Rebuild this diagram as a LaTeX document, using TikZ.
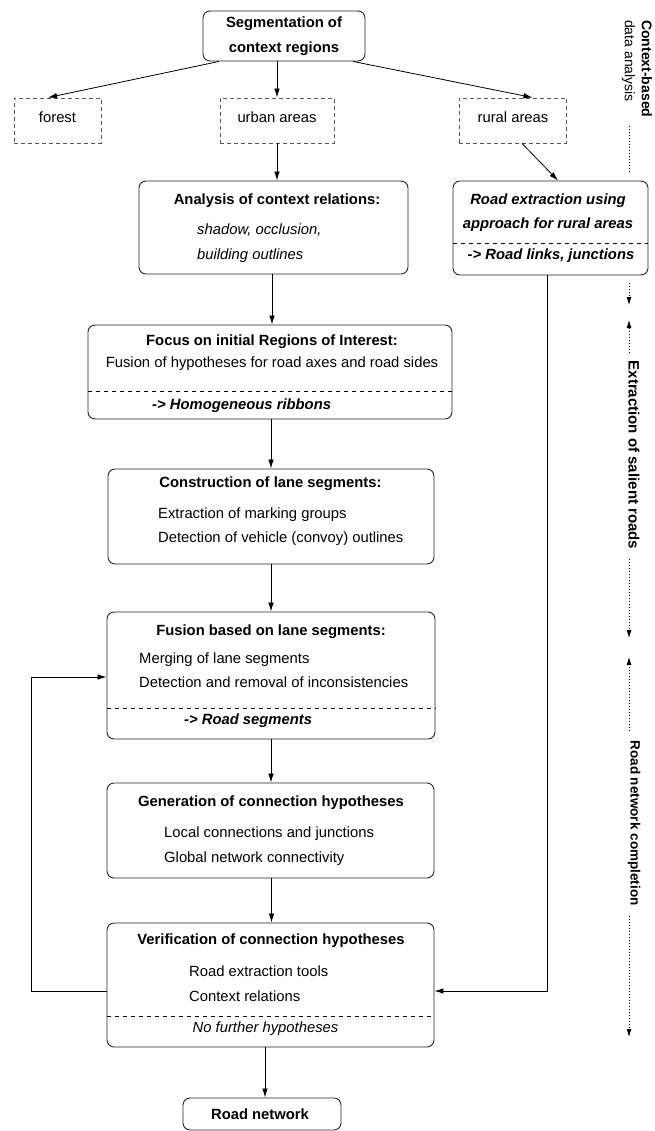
\documentclass[tikz,border=0pt]{standalone}
\usepackage{fontspec}
\setmainfont{Liberation Sans}
\usetikzlibrary{arrows.meta}
\newcommand\fsz{\fontsize{14.8}{17}\selectfont}
\newcommand\rsz{\fontsize{13.5}{16}\selectfont}
\begin{document}
\begin{tikzpicture}[x=1pt,y=-1pt,
  font=\fsz,
  box/.style={draw=black!85, line width=0.9pt, rounded corners=7pt, inner sep=0pt, fill=white},
  dbox/.style={draw=black!65, line width=0.9pt, dash pattern=on 4pt off 3pt, inner sep=0pt},
  txt/.style={inner sep=0pt, anchor=mid},
  ltxt/.style={inner sep=0pt, anchor=mid west},
  bf/.style={font=\fsz\bfseries},
  it/.style={font=\fsz\itshape},
  bfit/.style={font=\fsz\bfseries\itshape},
  sepline/.style={line width=0.8pt, dash pattern=on 4.5pt off 3.5pt},
  arr/.style={line width=0.8pt, -{Latex[length=9pt,width=5.5pt]}},
  dotl/.style={line width=0.8pt, dash pattern=on 0.8pt off 2.2pt},
  dotarr/.style={dotl, -{Latex[length=8pt,width=5pt]}},
  rlab/.style={inner sep=0pt, rotate=-90, align=left, font=\rsz}
]
\useasboundingbox (0,0) rectangle (655,1131);

% ---------- boxes ----------
\node[box, minimum width=162pt, minimum height=50pt] (seg) at (284,36) {};
\node[dbox, minimum width=87pt, minimum height=45pt] (forest) at (57.5,120.5) {};
\node[dbox, minimum width=114pt, minimum height=45pt] (urban) at (277,120.5) {};
\node[dbox, minimum width=107.5pt, minimum height=45pt] (rural) at (513,120.5) {};
\node[box, minimum width=269pt, minimum height=93pt] (analysis) at (273.5,227.5) {};
\node[box, minimum width=195pt, minimum height=94pt] (roadext) at (550.5,228) {};
\node[box, minimum width=364pt, minimum height=94pt] (focus) at (270,372) {};
\node[box, minimum width=326pt, minimum height=95pt] (cons) at (271,516.5) {};
\node[box, minimum width=328pt, minimum height=127pt] (fusion) at (271,675.5) {};
\node[box, minimum width=327pt, minimum height=95pt] (gen) at (270.5,830.5) {};
\node[box, minimum width=327pt, minimum height=124pt] (verif) at (270.5,985) {};
\node[box, minimum width=158pt, minimum height=32pt] (roadnet) at (262,1114) {};

% ---------- separators ----------
\draw[sepline] (roadext.west |- 0,243) -- (roadext.east |- 0,243);
\draw[sepline] (focus.west |- 0,391) -- (focus.east |- 0,391);
\draw[sepline] (fusion.west |- 0,708) -- (fusion.east |- 0,708);
\draw[sepline] (verif.west |- 0,1016) -- (verif.east |- 0,1016);

% ---------- texts ----------
\node[txt, bf] (segt1) at (284,25) {Segmentation of};
\node[txt, bf] (segt2) at (284,50) {context regions};
\node[txt] (forestt) at (57.5,120) {forest};
\node[txt] (urbant) at (277,120) {urban areas};
\node[txt] (ruralt) at (513,120) {rural areas};

\node[txt, bf] (ant1) at (277,202) {Analysis of context relations:};
\node[ltxt, it] (ant2) at (197,232) {shadow, occlusion,};
\node[ltxt, it] (ant3) at (197,257) {building outlines};

\node[txt, bfit] (ret1) at (548,202) {Road extraction using};
\node[txt, bfit] (ret2) at (548,226) {approach for rural areas};
\node[txt, bfit] (ret3) at (551,257) {-> Road links, junctions};

\node[txt, bf] (fot1) at (272,343) {Focus on initial Regions of Interest:};
\node[txt] (fot2) at (272,365) {Fusion of hypotheses for road axes and road sides};
\node[ltxt, bfit] (fot3) at (152,407) {-> Homogeneous ribbons};

\node[txt, bf] (cot1) at (270.5,485) {Construction of lane segments:};
\node[ltxt] (cot2) at (158,516) {Extraction of marking groups};
\node[ltxt] (cot3) at (158,540) {Detection of vehicle (convoy) outlines};

\node[txt, bf] (fut1) at (271,633) {Fusion based on lane segments:};
\node[ltxt] (fut2) at (139,661) {Merging of lane segments};
\node[ltxt] (fut3) at (139,685) {Detection and removal of inconsistencies};
\node[ltxt, bfit] (fut4) at (184,722) {-> Road segments};

\node[txt, bf] (get1) at (271,804) {Generation of connection hypotheses};
\node[ltxt] (get2) at (164,835) {Local connections and junctions};
\node[ltxt] (get3) at (164,860) {Global network connectivity};

\node[txt, bf] (vet1) at (271,942) {Verification of connection hypotheses};
\node[ltxt] (vet2) at (189,974) {Road extraction tools};
\node[ltxt] (vet3) at (189,999) {Context relations};
\node[txt, it] (vet4) at (265.5,1030) {No further hypotheses};

\node[txt, bf] (rnt) at (260,1117) {Road network};

% ---------- connectors ----------
\draw[arr] ([xshift=-65pt]seg.south) -- ([xshift=-9.5pt]forest.north);
\draw[arr] (seg.south -| urban.north) -- (urban.north);
\draw[arr] ([xshift=69pt]seg.south) -- ([xshift=19.5pt]rural.north);
\draw[arr] (urban.south) -- (urban.south |- analysis.north);
\draw[arr] ([xshift=9pt]rural.south) -- ([xshift=7.5pt]roadext.north);
\draw[arr] ([xshift=-1.5pt]analysis.south) -- ([xshift=-1.5pt]analysis.south |- focus.north);
\draw[arr] ([xshift=1pt]focus.south) -- ([xshift=1pt]focus.south |- cons.north);
\draw[arr] (cons.south) -- (cons.south |- fusion.north);
\draw[arr] (fusion.south) -- (fusion.south |- gen.north);
\draw[arr] ([xshift=1pt]gen.south) -- ([xshift=1pt]gen.south |- verif.north);
\draw[arr] ([xshift=-5.5pt]verif.south) -- ([xshift=-5.5pt]verif.south |- roadnet.north);
\draw[arr] ([xshift=-3.5pt]roadext.south) |- ([yshift=-6pt]verif.east);
\draw[arr] ([yshift=-6pt]verif.west) -- ++(-75,0) |- ([yshift=-1.5pt]fusion.west);

% ---------- right-hand phase labels ----------
\node[rlab, font=\fontsize{14}{17}\selectfont, anchor=west] (lab1) at (637,20) {\textbf{Context-based}\\data analysis};
\coordinate (d1b) at (629,173);
\draw[dotl] ([yshift=-8pt]lab1.east -| d1b) -- (d1b);
\coordinate (d1c) at (629,283);
\coordinate (d1d) at (629,305);
\draw[dotarr] (d1c) -- (d1d);

\node[rlab, font=\fontsize{15}{17}\selectfont\bfseries] (lab2) at (634,455) {Extraction of salient roads};
\coordinate (e2) at (629,320);
\coordinate (e4) at (629,638);
\draw[dotarr] ([yshift=8pt]lab2.west -| e2) -- (e2);
\draw[dotarr] ([yshift=-10pt]lab2.east -| e4) -- (e4);

\node[rlab, font=\rsz\bfseries] (lab3) at (634,823) {Road network completion};
\coordinate (f2) at (629,657);
\coordinate (f4) at (629,1037);
\draw[dotarr] ([yshift=10pt]lab3.west -| f2) -- (f2);
\draw[dotarr] ([yshift=-10pt]lab3.east -| f4) -- (f4);
\end{tikzpicture}
\end{document}
